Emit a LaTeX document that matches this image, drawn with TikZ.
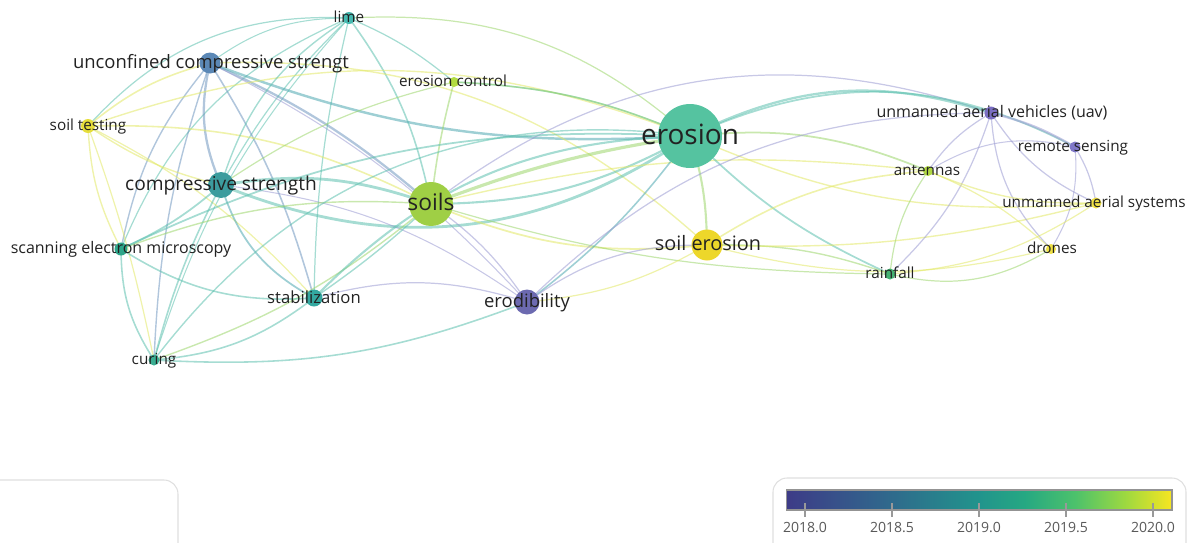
\documentclass[tikz,border=0pt]{standalone}
\usepackage{fontspec}
\setmainfont{Open Sans}
\pgfdeclarelayer{bg}
\pgfsetlayers{bg,main}
\pgfdeclarehorizontalshading{viridis}{100bp}{rgb(0bp)=(0.24,0.23,0.53); rgb(25bp)=(0.24,0.23,0.53); rgb(37.5bp)=(0.19,0.40,0.55); rgb(50bp)=(0.13,0.58,0.55); rgb(56bp)=(0.15,0.66,0.51); rgb(62.5bp)=(0.30,0.76,0.42); rgb(69bp)=(0.62,0.85,0.25); rgb(75bp)=(0.97,0.90,0.13); rgb(100bp)=(0.97,0.90,0.13)}
\definecolor{nEro}{HTML}{55C3A0}
\definecolor{nSoi}{HTML}{9FCF45}
\definecolor{nSer}{HTML}{EDD72A}
\definecolor{nErd}{HTML}{6C6AB0}
\definecolor{nUcs}{HTML}{5B88B6}
\definecolor{nCst}{HTML}{3C9C9E}
\definecolor{nSta}{HTML}{34A8A0}
\definecolor{nSem}{HTML}{2EA68A}
\definecolor{nCur}{HTML}{3AAE92}
\definecolor{nLim}{HTML}{45B9B0}
\definecolor{nStt}{HTML}{E6DE3A}
\definecolor{nEco}{HTML}{B2DC42}
\definecolor{nUav}{HTML}{7A6EC2}
\definecolor{nRem}{HTML}{8078C8}
\definecolor{nAnt}{HTML}{B0D842}
\definecolor{nUas}{HTML}{F0E145}
\definecolor{nDro}{HTML}{F0E145}
\definecolor{nRai}{HTML}{44B272}
\definecolor{cT}{HTML}{5CC0AE}
\definecolor{cTB}{HTML}{4FA8B0}
\definecolor{cB}{HTML}{7198C0}
\definecolor{cG}{HTML}{9CD66C}
\definecolor{cY}{HTML}{E2E866}
\definecolor{cP}{HTML}{9A9AD2}
\definecolor{txt}{HTML}{222222}
\newcommand\lfs[1]{\fontsize{#1}{#1}\selectfont}
\tikzset{
  dot/.style={circle, inner sep=0pt, minimum size=#1*0.04cm, draw=none},
  lab/.style={anchor=base, inner sep=0pt, text=txt},
  ed/.style={line width=#1, opacity=0.55, line cap=round},
  tick/.style={gray!80, line width=0.8pt},
  ticklab/.style={anchor=base, inner sep=0pt, text=black!65, font=\lfs{8pt}},
  legbox/.style={draw=gray!25, line width=0.6pt, rounded corners=8pt}
}
\begin{document}
\begin{tikzpicture}[x=0.02cm, y=-0.02cm]
\useasboundingbox (0,0) rectangle (1190,542);
% nodes (circles)
\node[dot=6,   fill=nLim] (lim) at (349,18) {};
\node[dot=10.5,fill=nUcs] (ucs) at (210,63) {};
\node[dot=5,   fill=nEco] (eco) at (454,82) {};
\node[dot=7,   fill=nStt] (stt) at (88,126) {};
\node[dot=32,  fill=nEro] (ero) at (690,136) {};
\node[dot=6.5, fill=nUav] (uav) at (991,113) {};
\node[dot=5.5, fill=nRem] (rem) at (1075,147) {};
\node[dot=5,   fill=nAnt] (ant) at (928,171) {};
\node[dot=5.5, fill=nUas] (uas) at (1096,203) {};
\node[dot=5,   fill=nDro] (dro) at (1051,249) {};
\node[dot=13,  fill=nCst] (cst) at (221,185) {};
\node[dot=22,  fill=nSoi] (soi) at (431,204) {};
\node[dot=15.5,fill=nSer] (ser) at (707,245) {};
\node[dot=6.5, fill=nSem] (sem) at (121,249) {};
\node[dot=5.5, fill=nRai] (rai) at (890,274) {};
\node[dot=8.5, fill=nSta] (sta) at (314,298) {};
\node[dot=12.5,fill=nErd] (erd) at (527,302) {};
\node[dot=5.5, fill=nCur] (cur) at (154,360) {};
% labels
\node[lab, font=\lfs{8.7pt}]  (limT) at (349,22) {lime};
\node[lab, font=\lfs{10.5pt}] (ucsT) at (211,68.5) {unconfined compressive strengt};
\node[lab, font=\lfs{8.7pt}]  (ecoT) at (453,86.5) {erosion control};
\node[lab, font=\lfs{8.7pt}]  (sttT) at (88,130.5) {soil testing};
\node[lab, font=\lfs{15.9pt}] (eroT) at (690,144) {erosion};
\node[lab, font=\lfs{9.1pt}]  (uavT) at (992,117.5) {unmanned aerial vehicles (uav)};
\node[lab, font=\lfs{8.7pt}]  (remT) at (1073,151.5) {remote sensing};
\node[lab, font=\lfs{8.7pt}]  (antT) at (927,175.5) {antennas};
\node[lab, font=\lfs{8.7pt}]  (uasT) at (1094,207.5) {unmanned aerial systems};
\node[lab, font=\lfs{8.7pt}]  (droT) at (1052,253.5) {drones};
\node[lab, font=\lfs{10.9pt}] (cstT) at (221,190.5) {compressive strength};
\node[lab, font=\lfs{13pt}]   (soiT) at (431,210.5) {soils};
\node[lab, font=\lfs{11.3pt}] (serT) at (708,250.5) {soil erosion};
\node[lab, font=\lfs{9.1pt}]  (semT) at (121,253.5) {scanning electron microscopy};
\node[lab, font=\lfs{8.7pt}]  (raiT) at (890,278.5) {rainfall};
\node[lab, font=\lfs{9.5pt}]  (staT) at (314,303.5) {stabilization};
\node[lab, font=\lfs{10.5pt}] (erdT) at (527,307.5) {erodibility};
\node[lab, font=\lfs{8.7pt}]  (curT) at (154,364.5) {curing};
% edges
\begin{pgfonlayer}{bg}
% lime
\draw[ed=0.7pt,cT] (lim.center) to[bend right=25] (stt.center);
\draw[ed=0.7pt,cT] (lim.center) to[bend right=8] (cst.center);
\draw[ed=0.7pt,cT] (lim.center) to[bend right=22] (sem.center);
\draw[ed=0.7pt,cT] (lim.center) to[bend right=6] (sta.center);
\draw[ed=0.9pt,cT] (lim.center) to[bend left=12] (soi.center);
\draw[ed=0.7pt,cT] (lim.center) to[bend left=8] (eco.center);
\draw[ed=0.7pt,cG] (lim.center) to[bend left=22] (ero.center);
\draw[ed=0.6pt,cT] (lim.center) to[bend right=12] (cur.center);
\draw[ed=0.6pt,cT] (lim.center) to[bend right=18] (ucs.center);
% unconfined
\draw[ed=0.9pt,cY] (ucs.center) to[bend right=12] (stt.center);
\draw[ed=1.3pt,cB] (ucs.center) to[bend right=18] (cst.center);
\draw[ed=1.3pt,cB] (ucs.center) to[bend left=8] (soi.center);
\draw[ed=1.4pt,cTB] (ucs.center) to[bend right=12] (ero.center);
\draw[ed=0.9pt,cB] (ucs.center) to[bend left=8] (sta.center);
\draw[ed=0.8pt,cB] (ucs.center) to[bend right=14] (sem.center);
\draw[ed=0.8pt,cB] (ucs.center) to[bend right=8] (cur.center);
\draw[ed=0.6pt,cP] (ucs.center) to[bend left=10] (erd.center);
\draw[ed=0.8pt,cY] (ucs.center) to[bend left=22] (ser.center);
% soil testing
\draw[ed=0.9pt,cY] (stt.center) to[bend left=14] (soi.center);
\draw[ed=0.8pt,cY] (stt.center) to[bend left=20] (ero.center);
\draw[ed=0.8pt,cY] (stt.center) to[bend right=10] (cst.center);
\draw[ed=0.8pt,cY] (stt.center) to[bend right=12] (sem.center);
\draw[ed=0.7pt,cY] (stt.center) to[bend left=10] (sta.center);
\draw[ed=0.7pt,cY] (stt.center) to[bend left=4] (cur.center);
% compressive strength
\draw[ed=1.6pt,cT] (cst.center) to[bend left=14] (soi.center);
\draw[ed=1.6pt,cT] (cst.center) to[bend right=28] (ero.center);
\draw[ed=1.0pt,cT] (cst.center) to[bend left=8] (sem.center);
\draw[ed=1.0pt,cTB] (cst.center) to[bend right=22] (sta.center);
\draw[ed=0.9pt,cT] (cst.center) to[bend right=6] (cur.center);
\draw[ed=0.6pt,cP] (cst.center) to[bend left=14] (erd.center);
\draw[ed=0.8pt,cT] (cst.center) to[bend left=20] (lim.center);
% soils
\draw[ed=1.8pt,cG] (soi.center) to[bend left=6] (ero.center);
\draw[ed=1.2pt,cT] (soi.center) to[bend right=14] (ero.center);
\draw[ed=1.0pt,cY] (soi.center) to[bend right=14] (ser.center);
\draw[ed=0.7pt,cP] (soi.center) to[bend left=10] (erd.center);
\draw[ed=0.8pt,cT] (soi.center) to[bend left=4] (sta.center);
\draw[ed=0.9pt,cG] (soi.center) to[bend left=4] (eco.center);
\draw[ed=0.8pt,cG] (soi.center) to[bend right=12] (sem.center);
\draw[ed=0.8pt,cG] (soi.center) to[bend left=10] (cur.center);
\draw[ed=0.8pt,cY] (soi.center) to[bend left=10] (ant.center);
\draw[ed=0.7pt,cG] (soi.center) to[bend right=8] (rai.center);
\draw[ed=0.7pt,cP] (soi.center) to[bend left=28] (uav.center);
% erosion
\draw[ed=1.2pt,cG] (ero.center) to[bend left=8] (ser.center);
\draw[ed=0.9pt,cTB] (ero.center) to[bend left=8] (erd.center);
\draw[ed=1.3pt,cT] (ero.center) to[bend left=22] (uav.center);
\draw[ed=1.0pt,cT] (ero.center) to[bend left=26] (rem.center);
\draw[ed=1.0pt,cG] (ero.center) to[bend left=14] (ant.center);
\draw[ed=1.0pt,cT] (ero.center) to[bend right=10] (rai.center);
\draw[ed=0.8pt,cY] (ero.center) to[bend right=14] (uas.center);
\draw[ed=1.2pt,cT] (ero.center) to[bend right=22] (sta.center);
\draw[ed=0.8pt,cT] (ero.center) to[bend right=30] (cur.center);
\draw[ed=1.0pt,cT] (ero.center) to[bend right=14] (sem.center);
\draw[ed=0.9pt,cT] (ero.center) to[bend right=10] (eco.center);
% soil erosion
\draw[ed=0.7pt,cP] (ser.center) to[bend right=18] (erd.center);
\draw[ed=0.8pt,cG] (ser.center) to[bend left=10] (rai.center);
\draw[ed=0.9pt,cY] (ser.center) to[bend left=14] (ant.center);
\draw[ed=0.8pt,cY] (ser.center) to[bend right=8] (uas.center);
\draw[ed=0.7pt,cY] (ser.center) to[bend right=14] (dro.center);
% drones cluster
\draw[ed=1.3pt,cP] (uav.center) to[bend left=8] (rem.center);
\draw[ed=0.7pt,cP] (uav.center) to[bend right=12] (ant.center);
\draw[ed=0.7pt,cP] (uav.center) to[bend left=14] (rai.center);
\draw[ed=0.7pt,cP] (uav.center) to[bend right=20] (dro.center);
\draw[ed=0.7pt,cP] (uav.center) to[bend right=16] (uas.center);
\draw[ed=0.7pt,cP] (rem.center) to[bend left=10] (uas.center);
\draw[ed=0.6pt,cP] (rem.center) to[bend left=18] (dro.center);
\draw[ed=0.6pt,cP] (rem.center) to[bend right=22] (ant.center);
\draw[ed=0.7pt,cG] (ant.center) to[bend right=14] (rai.center);
\draw[ed=0.8pt,cY] (ant.center) to[bend right=12] (uas.center);
\draw[ed=0.7pt,cY] (ant.center) to[bend left=10] (dro.center);
\draw[ed=0.7pt,cY] (rai.center) to[bend right=14] (uas.center);
\draw[ed=0.7pt,cG] (rai.center) to[bend right=22] (dro.center);
% lower left
\draw[ed=0.7pt,cP] (sta.center) to[bend left=16] (erd.center);
\draw[ed=0.9pt,cT] (sta.center) to[bend left=16] (cur.center);
\draw[ed=0.9pt,cT] (sta.center) to[bend left=18] (sem.center);
\draw[ed=0.9pt,cT] (sem.center) to[bend right=16] (cur.center);
\draw[ed=0.9pt,cT] (cur.center) to[bend right=12] (erd.center);
\draw[ed=0.7pt,cP] (erd.center) to[bend left=22] (uav.center);
\draw[ed=0.8pt,cG] (eco.center) to[bend left=10] (ero.center);
\draw[ed=0.7pt,cG] (eco.center) to[bend right=10] (cst.center);
\draw[ed=0.7pt,cY] (erd.center) to[bend right=12] (ser.center);
\end{pgfonlayer}
% legend
\draw[legbox] (773,478) rectangle (1186,566);
\draw[legbox] (-30,480) rectangle (178,566);
\node[draw=gray!85, line width=0.6pt, shading=viridis, inner sep=0pt,
      minimum width=7.72cm, minimum height=0.4cm] (bar) at (979,500) {};
\foreach \xx/\yr in {805/2018.0, 892/2018.5, 979/2019.0, 1066/2019.5, 1153/2020.0}{
  \draw[tick] (\xx,503) -- (\xx,517);
  \node[ticklab] at (\xx,532) {\yr};
}
\end{tikzpicture}
\end{document}
